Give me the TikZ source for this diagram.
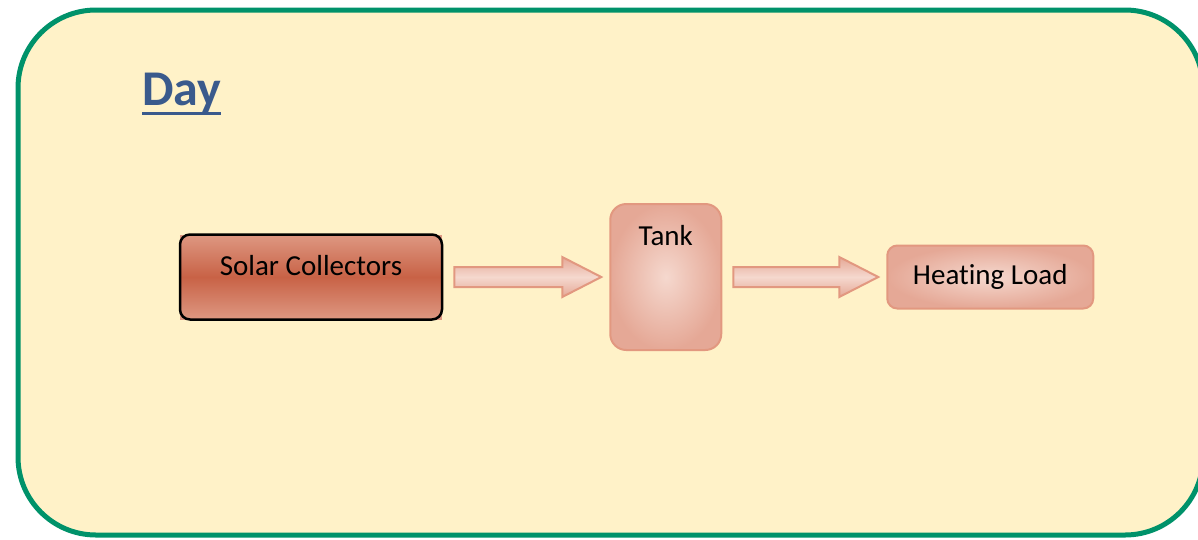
\documentclass[tikz,border=0pt]{standalone}
\usepackage{fontspec}
\setmainfont{Carlito}[Ligatures=NoCommon]
\usepackage{xcolor}
\usetikzlibrary{positioning}
\usetikzlibrary{calc}
\definecolor{framegreen}{RGB}{0,146,106}
\definecolor{bgyellow}{RGB}{255,242,200}
\definecolor{daycol}{RGB}{58,90,140}
\definecolor{sclight}{RGB}{222,152,130}
\definecolor{scdark}{RGB}{200,98,70}
\definecolor{pinklight}{RGB}{245,216,206}
\definecolor{pinkedge}{RGB}{229,168,150}
\definecolor{pinkline}{RGB}{226,152,128}
% block arrow from one node to the next
\newcommand{\fatarrow}[2]{%
  \draw[bigarrow] let \p1=($(#1.east)+(11pt,0)$), \p2=($(#2.west)+(-8pt,0)$) in
    (\x1,\y1+10pt) -- (\x2-39pt,\y1+10pt) -- (\x2-39pt,\y1+20pt) -- (\x2,\y1)
    -- (\x2-39pt,\y1-20pt) -- (\x2-39pt,\y1-10pt) -- (\x1,\y1-10pt) -- cycle;}

\begin{document}
\begin{tikzpicture}[x=1pt, y=-1pt]
% Styles:
\tikzset{frame/.style={draw=framegreen, line width=5pt, fill=bgyellow, rounded corners=78pt}}
\tikzset{boxtext/.style={font=\fontsize{29}{34}\selectfont, text=black}}
\tikzset{scbox/.style={boxtext, draw=black, line width=2.5pt, rounded corners=10pt,
    top color=sclight, bottom color=sclight, middle color=scdark,
    minimum width=262pt, inner xsep=0pt, inner ysep=0pt, text height=41pt, text depth=44pt}}
\tikzset{tankbox/.style={draw=pinkline, line width=2pt, rounded corners=16pt,
    inner color=pinklight, outer color=pinkedge, minimum width=111pt, minimum height=146pt}}
\tikzset{loadbox/.style={boxtext, draw=pinkline, line width=2pt, rounded corners=10pt,
    inner color=pinklight, outer color=pinkedge, minimum width=206pt, minimum height=63pt, inner sep=0pt}}
\tikzset{bigarrow/.style={draw=pinkline, line width=2pt, line join=miter,
    top color=pinkedge, bottom color=pinkedge, middle color=pinklight}}
\tikzset{dayline/.style={draw=daycol, line width=3pt}}

\useasboundingbox (0,0) rectangle (1198,539);

% Frame:
\draw[frame] (18,10) rectangle (1203,535);

% Title:
\node[font=\fontsize{50}{60}\selectfont\bfseries, text=daycol, inner sep=0pt, anchor=base west] (day) at (142,105) {Day};
\draw[dayline] ([yshift=-8pt]day.base west) -- ([yshift=-8pt]day.base east);

% Main nodes:
\coordinate (scpos) at (311,277);
\fill[sclight] ($(scpos)+(-131,-42.5)$) rectangle ($(scpos)+(131,42.5)$);
\node[scbox] (sc) at (scpos) {Solar Collectors};
\node[tankbox] (tank) [right=166pt of sc] {};
\node[boxtext, inner sep=0pt] (tanktxt) [below=22pt of tank.north] {Tank};
\node[loadbox] (hl) [right=164pt of tank] {Heating Load};

% Arrows:
\fatarrow{sc}{tank}
\fatarrow{tank}{hl}
\end{tikzpicture}
\end{document}
